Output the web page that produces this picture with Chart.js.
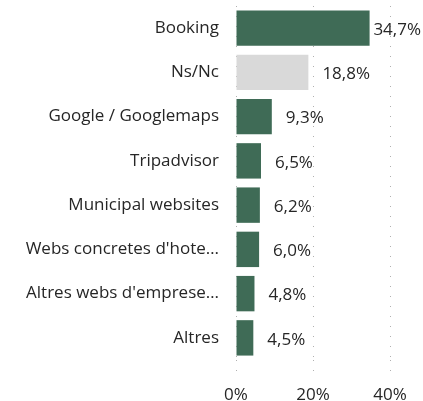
<!DOCTYPE html>
<html>
<head>
<meta charset="utf-8">
<script src="https://cdn.jsdelivr.net/npm/chart.js@4/dist/chart.umd.min.js"></script>
<style>
  html, body { margin: 0; padding: 0; background: #fff; }
  #wrap { width: 423px; height: 401px; }
</style>
</head>
<body>
<div id="wrap"><canvas id="chart" width="423" height="401"></canvas></div>
<script>
// categories and values
const categories = ['Booking', 'Ns/Nc', 'Google / Googlemaps', 'Tripadvisor', 'Municipal websites', "Webs concretes d'hote\u2026", "Altres webs d'emprese\u2026", 'Altres'];
const shares = [34.7, 18.8, 9.3, 6.5, 6.2, 6.0, 4.8, 4.5];
const xTicks = [0, 20, 40];

const GREEN = '#3f6b56';
const GREY = '#d9d9d9';
const FONT = '"Open Sans", Lato, sans-serif';

// value labels drawn after the bars, pushed back inside if they'd run off the right edge
const valueLabels = {
  id: 'valueLabels',
  afterDatasetsDraw(chart) {
    const ctx = chart.ctx;
    const meta = chart.getDatasetMeta(0);
    ctx.save();
    ctx.font = '17px ' + FONT;
    ctx.fillStyle = '#262626';
    ctx.textBaseline = 'middle';
    meta.data.forEach((bar, i) => {
      const txt = shares[i].toFixed(1).replace('.', ',') + '%';
      const w = ctx.measureText(txt).width;
      let x = bar.x + 14;
      if (x + w > chart.width - 2) x = chart.width - 2 - w;
      ctx.fillText(txt, x, bar.y + 2);
    });
    ctx.restore();
  }
};

new Chart(document.getElementById('chart'), {
  type: 'bar',
  data: {
    labels: categories,
    datasets: [{
      data: shares,
      backgroundColor: categories.map(c => c === 'Ns/Nc' ? GREY : GREEN),
      barPercentage: 0.8,
      categoryPercentage: 1
    }]
  },
  options: {
    indexAxis: 'y',
    responsive: false,
    animation: false,
    layout: { padding: { top: 6, right: 33, bottom: 0, left: 0 } },
    plugins: { legend: { display: false }, tooltip: { enabled: false } },
    scales: {
      x: {
        min: 0,
        max: 40,
        afterBuildTicks: s => { s.ticks = xTicks.map(v => ({ value: v })); },
        afterFit: s => { s.height = 41; s.paddingLeft = 0; s.paddingRight = 0; },
        ticks: { color: '#262626', font: { size: 17, family: FONT }, padding: 12, callback: v => v + '%' },
        grid: { color: '#b0b0b0', lineWidth: 1, drawTicks: true, tickLength: 13, tickBorderDash: [1, 9] },
        border: { display: false, dash: [1, 9] }
      },
      y: {
        afterFit: s => { s.width = 236; s.paddingTop = 0; s.paddingBottom = 0; },
        ticks: { color: '#262626', font: { size: 17, family: FONT }, padding: 9 },
        grid: { display: false },
        border: { display: false }
      }
    }
  },
  plugins: [valueLabels]
});
</script>
</body>
</html>
